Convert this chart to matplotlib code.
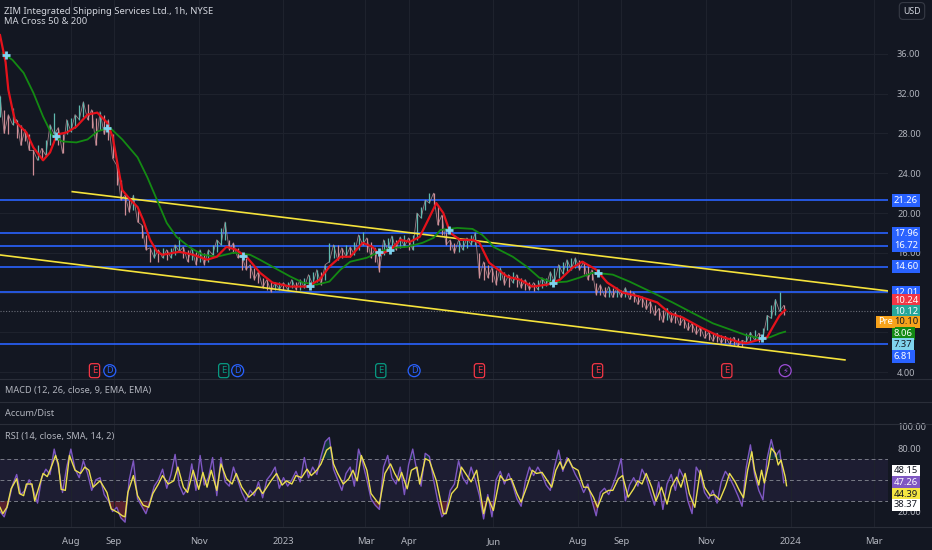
import numpy as np
import matplotlib
matplotlib.use('Agg')
import matplotlib.pyplot as plt
import matplotlib.dates as mdates

# ---- data ----
base = np.datetime64('2022-06-11')   # day 0 = left edge of the chart

# hourly candles summarised every 3 days: high / low of the visible band
candle_hi = [31.8, 30.4, 29.9, 30.6, 29.4, 28.9, 28.4, 27.9, 26.3, 26.8,
             26.5, 27.3, 28.9, 30.1, 28.6, 27.9, 29.4, 29.6, 29.9, 30.9,
             31.2, 31.0, 30.4, 29.6, 30.2, 29.9, 29.4, 27.9, 24.8, 23.3,
             21.8, 21.3, 21.8, 20.3, 18.8, 17.8, 16.5, 16.8, 16.3, 16.5,
             16.3, 16.5, 16.8, 17.6, 16.6, 16.3, 16.5, 16.1, 16.3, 16.0,
             16.3, 16.8, 17.3, 18.5, 19.1, 17.3, 17.0, 16.5, 15.8, 15.5,
             14.8, 14.5, 14.1, 13.5, 13.3, 13.1, 13.0, 13.1, 13.0, 13.1,
             13.3, 13.1, 13.3, 13.5, 13.8, 14.1, 14.3, 14.1, 14.8, 17.0,
             16.8, 16.8, 16.5, 16.8, 16.6, 17.1, 17.8, 18.1, 17.5, 17.1,
             16.5, 15.8, 17.3, 17.5, 17.7, 17.3, 17.6, 17.8, 17.5, 17.8,
             20.0, 20.6, 21.3, 22.0, 22.0, 20.8, 19.8, 18.1, 17.3, 17.0,
             17.3, 17.3, 17.5, 17.8, 18.0, 16.0, 15.1, 14.8, 14.5, 14.3,
             14.5, 14.1, 13.8, 14.1, 13.8, 13.5, 13.3, 13.1, 13.0, 13.3,
             13.5, 13.5, 14.1, 14.5, 14.8, 15.1, 15.3, 15.5, 15.5, 15.3,
             15.1, 14.7, 14.3, 13.0, 12.8, 12.6, 12.6, 12.5, 12.5, 12.3,
             12.5, 12.3, 12.0, 11.8, 11.6, 11.3, 11.1, 10.7, 10.4, 10.2,
             10.4, 10.0, 10.0, 9.7, 9.4, 9.0, 8.9, 8.7, 8.5, 8.2,
             8.0, 7.9, 7.9, 7.7, 7.6, 7.5, 7.5, 7.4, 7.2, 7.9,
             8.0, 8.2, 7.9, 8.4, 9.7, 10.7, 11.3, 12.1, 10.7]
candle_lo = [29.7, 28.0, 27.9, 28.9, 27.5, 26.8, 27.2, 26.3, 23.8, 25.3,
             25.3, 25.8, 26.8, 27.9, 26.8, 26.0, 27.9, 28.2, 28.6, 29.4,
             29.7, 29.4, 28.6, 26.8, 28.4, 27.9, 27.3, 25.5, 22.8, 21.3,
             19.8, 20.1, 20.3, 19.1, 17.5, 16.3, 15.1, 15.5, 15.1, 15.5,
             15.3, 15.5, 15.8, 16.1, 15.5, 15.1, 15.3, 14.8, 15.1, 14.8,
             15.1, 15.8, 16.1, 16.8, 17.3, 16.3, 16.0, 15.5, 14.3, 14.3,
             13.5, 13.3, 13.0, 12.5, 12.3, 12.1, 12.3, 12.3, 12.3, 12.3,
             12.5, 12.3, 12.3, 12.5, 12.6, 12.8, 13.1, 12.8, 13.3, 15.1,
             15.5, 15.3, 15.5, 15.6, 15.6, 15.8, 16.3, 16.8, 16.1, 15.5,
             15.1, 14.1, 15.8, 16.3, 16.5, 16.3, 16.5, 16.6, 16.3, 16.3,
             17.3, 19.5, 20.3, 21.0, 20.8, 18.8, 17.8, 16.8, 16.3, 16.0,
             16.1, 16.3, 16.5, 16.8, 16.8, 13.5, 13.3, 13.5, 13.1, 12.8,
             13.3, 12.8, 12.6, 13.0, 12.6, 12.5, 12.3, 12.3, 12.2, 12.3,
             12.5, 12.7, 12.8, 13.0, 13.5, 13.9, 14.1, 14.3, 14.5, 14.3,
             13.9, 13.3, 13.3, 11.8, 11.8, 11.6, 11.6, 11.5, 11.6, 11.5,
             11.6, 11.3, 11.0, 10.8, 10.5, 10.3, 9.9, 9.7, 9.2, 9.0,
             9.2, 9.0, 8.9, 8.7, 8.4, 8.2, 8.0, 7.8, 7.6, 7.4,
             7.2, 7.1, 7.0, 6.9, 6.9, 6.8, 6.7, 6.6, 6.5, 7.0,
             7.1, 7.2, 7.0, 7.4, 8.2, 9.4, 9.7, 10.1, 9.7]

ma50_day = [0, 4, 6, 9, 11, 19, 24, 31, 36, 41, 48, 55, 63, 70, 77, 81, 85, 88, 94, 99,
            103, 108, 113, 117, 129, 139, 149, 156, 163, 170, 178, 187, 196, 209, 221, 230,
            237, 245, 252, 261, 268, 273, 281, 288, 295, 302, 307, 314, 319, 324, 331, 340,
            345, 352, 365, 374, 383, 394, 403, 412, 419, 429, 437, 448, 460, 473, 482, 491,
            504, 516, 532, 537, 545, 552, 556, 561, 565]
ma50_val = [37.9, 35.2, 32.4, 30.4, 29.2, 28.1, 26.6, 25.3, 26.1, 27.9, 28.1, 28.7, 29.9,
            30.1, 29.1, 27.7, 24.6, 22.3, 21.3, 20.6, 19.3, 17.3, 16.1, 15.8, 16.1, 15.8,
            15.3, 15.6, 16.6, 16.3, 15.5, 14.0, 13.0, 12.6, 12.6, 13.3, 14.6, 15.6, 15.6,
            17.0, 16.6, 15.8, 16.3, 17.3, 17.1, 17.6, 19.0, 21.0, 20.0, 18.0, 17.3, 17.3,
            17.0, 15.0, 13.6, 13.3, 12.6, 12.8, 13.3, 14.5, 15.1, 14.3, 13.0, 12.0, 11.6,
            11.0, 9.9, 9.5, 8.5, 7.7, 7.0, 6.9, 7.2, 7.5, 8.5, 9.7, 10.24]

ma200_day = [2, 9, 17, 24, 31, 38, 45, 55, 63, 70, 79, 88, 99, 106, 113, 120, 127, 137,
             146, 156, 168, 180, 187, 196, 209, 218, 228, 237, 245, 252, 264, 273, 283, 293,
             304, 312, 317, 329, 340, 347, 352, 355, 369, 379, 388, 398, 408, 417, 427, 441,
             453, 468, 484, 499, 513, 527, 537, 547, 554, 561, 565]
ma200_val = [36.1, 35.4, 34.1, 32.1, 29.7, 27.7, 27.2, 27.1, 27.4, 28.2, 28.6, 27.4, 25.6,
             23.6, 21.3, 19.0, 17.6, 16.5, 15.8, 15.6, 16.0, 15.8, 15.3, 14.6, 13.6, 13.0,
             12.8, 13.1, 14.3, 15.1, 15.5, 16.1, 16.5, 16.6, 17.0, 17.5, 18.3, 18.5, 18.4,
             17.8, 17.1, 16.6, 15.6, 14.6, 13.5, 13.0, 13.1, 13.5, 14.0, 13.8, 13.1, 12.1,
             11.0, 9.9, 8.9, 8.2, 7.7, 7.4, 7.5, 7.9, 8.06]

cross_day = [4, 40, 77, 175, 223, 273, 281, 323, 398, 430, 548]
cross_val = [35.9, 27.7, 28.6, 15.7, 12.7, 16.1, 16.3, 18.3, 13.0, 14.0, 7.43]

levels = [21.26, 17.96, 16.72, 14.60, 12.01, 6.81]
last_price = 10.12
upper_trend = ([52, 639], [22.15, 12.16])
lower_trend = ([0, 608], [15.78, 5.22])

# right price scale labels
tag_vals = [21.26, 17.96, 16.72, 14.60, 12.01, 10.24, 10.12, 10.10, 8.06, 7.37, 6.81]
tag_face = ['#2962ff'] * 5 + ['#f23645', '#26a69a', '#f7a21b', '#138a13', '#7fd3ee', '#2962ff']
tag_text = ['white'] * 7 + ['#131722', 'white', '#131722', 'white']
tag_shift = [0, 0, 0, 0, 0, 10, 0, -10.5, -2, -5.5, -12]

event_day = [68, 79, 161, 171, 274, 298, 345, 430, 523, 565]
event_kind = ['E', 'D', 'E', 'D', 'E', 'D', 'E', 'E', 'E', '⚡']
event_color = ['#f23645', '#2962ff', '#089981', '#2962ff', '#089981', '#2962ff',
               '#f23645', '#f23645', '#f23645', '#9c4dd6']

# RSI (purple, every 3 days) and its SMA (yellow)
rsi_val = [20, 15, 28, 45, 55, 36, 40, 50, 40, 28, 52, 60, 55, 79, 62, 38, 62, 79, 60, 52,
           68, 56, 40, 50, 52, 36, 30, 20, 24, 14, 10, 50, 68, 32, 25, 18, 30, 44, 50, 60,
           42, 55, 74, 45, 36, 42, 65, 40, 73, 45, 52, 71, 35, 71, 48, 44, 62, 50, 38, 30,
           40, 35, 48, 33, 50, 55, 62, 42, 52, 44, 50, 58, 48, 71, 52, 62, 55, 72, 86, 90,
           60, 50, 40, 56, 62, 44, 79, 66, 50, 32, 26, 22, 62, 73, 52, 46, 62, 36, 64, 79,
           58, 44, 75, 72, 50, 30, 15, 20, 40, 46, 68, 52, 46, 62, 50, 35, 13, 36, 15, 50,
           58, 46, 56, 45, 32, 25, 48, 62, 54, 62, 55, 45, 40, 62, 78, 58, 71, 64, 55, 48,
           38, 46, 30, 16, 38, 42, 36, 45, 56, 70, 30, 45, 52, 44, 60, 52, 38, 26, 48, 22,
           46, 55, 40, 60, 52, 30, 18, 62, 55, 38, 32, 40, 28, 48, 58, 52, 44, 35, 25, 62,
           83, 55, 40, 31, 70, 88, 72, 78, 47.26]
rsi_ma_day = [0, 2, 5, 8, 12, 14, 17, 19, 23, 25, 28, 31, 34, 36, 40, 42, 44, 47, 50, 54,
              58, 61, 64, 67, 72, 77, 80, 85, 88, 90, 92, 96, 99, 103, 107, 110, 114, 117,
              121, 125, 128, 132, 135, 139, 143, 146, 149, 152, 156, 159, 163, 167, 170,
              174, 179, 182, 186, 189, 192, 195, 199, 203, 206, 210, 213, 217, 221, 224,
              228, 231, 235, 238, 240, 243, 247, 251, 254, 257, 260, 264, 267, 271, 273,
              277, 281, 284, 287, 289, 293, 296, 300, 302, 306, 309, 314, 319, 321, 325,
              329, 332, 336, 339, 343, 345, 348, 351, 355, 360, 363, 368, 372, 375, 379,
              383, 386, 390, 393, 397, 400, 403, 405, 409, 412, 416, 420, 423, 427, 430,
              434, 438, 441, 445, 448, 452, 456, 459, 462, 465, 469, 472, 476, 480, 483,
              487, 490, 493, 496, 500, 504, 507, 511, 514, 518, 522, 525, 529, 532, 535,
              538, 541, 543, 546, 548, 550, 553, 555, 558, 560, 562, 565, 566]
rsi_ma_val = [24, 18, 24, 41.5, 51, 37, 35, 46, 46, 30, 43, 56, 53, 59, 73, 65, 41, 40, 73,
              59, 56, 62, 59, 43, 49, 38, 22.5, 19, 16, 15, 38, 54, 35, 26, 24, 37, 46, 54,
              46, 49, 62, 43, 38, 59, 41, 57, 43, 59, 40, 65, 51, 46, 56, 43, 33.6, 37, 43,
              37, 43, 49, 56, 45, 49, 46, 54, 52, 60, 54, 59, 65, 78, 81, 65, 56, 46, 51,
              59, 49, 73, 59, 37, 30, 27, 56, 65, 56, 49, 57, 41.5, 59, 62, 46, 70, 68, 49,
              18, 18, 37, 43, 62, 54, 48, 59, 43, 18, 33.6, 21, 54, 49, 51, 37, 29, 43, 59,
              56, 57, 51, 43, 59, 67, 60, 70, 62, 59, 43, 43, 33.6, 24, 37, 40, 40, 51, 54,
              33.6, 41.5, 49, 46, 56, 43, 30, 43, 27, 43, 52.5, 43, 56, 37, 24, 59, 43, 35,
              36, 31, 43.5, 56, 48, 40, 33, 59, 76.5, 59, 45, 59, 47, 64, 80, 75, 64, 68.7,
              53, 44.39]
rsi_tag_vals = [48.15, 47.26, 44.39, 38.37]
rsi_tag_face = ['#ffffff', '#7e57c2', '#f5e642', '#ffffff']
rsi_tag_text = ['#131722', 'white', '#131722', '#131722']
rsi_tag_shift = [10.8, 0, -8.3, -12.9]

tick_dates = ['2022-08-01', '2022-09-01', '2022-11-01', '2023-01-01', '2023-03-01', '2023-04-01',
              '2023-06-01', '2023-08-01', '2023-09-01', '2023-11-01', '2024-01-01', '2024-03-01']
tick_labels = ['Aug', 'Sep', 'Nov', '2023', 'Mar', 'Apr', 'Jun', 'Aug', 'Sep', 'Nov', '2024', 'Mar']

# ---- style ----
BG = '#131722'
GRID = '#1e222d'
TXT = '#b2b5be'
plt.rcParams['font.family'] = ['Liberation Sans Narrow', 'Noto Sans', 'DejaVu Sans']


def to_num(days):
    return mdates.date2num(base + np.asarray(days, dtype=float).round().astype('timedelta64[D]'))


W, H = 932, 550


def rect(top, bottom, left=0, right=888):
    return [left / W, 1 - bottom / H, (right - left) / W, (bottom - top) / H]


fig = plt.figure(figsize=(W / 100, H / 100), dpi=100, facecolor=BG)
ax = fig.add_axes(rect(0, 379))
ax_macd = fig.add_axes(rect(379, 402), sharex=ax)
ax_ad = fig.add_axes(rect(402, 424), sharex=ax)
ax_rsi = fig.add_axes(rect(424, 527), sharex=ax)

xticks = mdates.date2num(np.array(tick_dates, dtype='datetime64[D]'))
for a in (ax, ax_macd, ax_ad, ax_rsi):
    a.set_facecolor(BG)
    for s in a.spines.values():
        s.set_visible(False)
    a.set_xticks(xticks)
    a.grid(True, axis='x', color=GRID, lw=0.8)
    a.tick_params(axis='x', length=0, labelbottom=False)
    a.yaxis.tick_right()
    a.tick_params(axis='y', length=0, colors=TXT, labelsize=6.6, pad=6.5)
ax.set_xlim(to_num(0), to_num(639))

# ---- price pane ----
ax.set_ylim(3.30, 41.43)
ax.set_yticks(np.arange(4, 37, 4))
# 8.00 and 12.00 sit under the value tags, as in the original
ax.set_yticklabels(['' if v in (8, 12) else '%.2f' % v for v in np.arange(4, 37, 4)])
ax.grid(True, axis='y', color=GRID, lw=0.8)

cd = to_num(np.arange(len(candle_hi)) * 3)
hi = np.array(candle_hi)
lo = np.array(candle_lo)
mid = (hi + lo) / 2
up = np.r_[True, mid[1:] >= mid[:-1]]
zig = np.where(np.arange(len(hi)) % 2 == 0, hi, lo)
ax.plot(cd, zig, color='#b88f96', lw=0.6, alpha=0.85, zorder=3)
ax.vlines(cd, lo, hi, colors=np.where(up, '#5fb8ae', '#d08e97'), lw=0.9, zorder=3)

for lv in levels:
    ax.axhline(lv, color='#2962ff', lw=1.2, zorder=2)
ax.axhline(last_price, color='#6a6d78', lw=0.8, ls=(0, (1, 1.5)), zorder=2)
ax.plot(to_num(upper_trend[0]), upper_trend[1], color='#f5e33b', lw=1.2, zorder=4)
ax.plot(to_num(lower_trend[0]), lower_trend[1], color='#f5e33b', lw=1.2, zorder=4)

ax.plot(to_num(ma200_day), ma200_val, color='#138a13', lw=1.3, zorder=5)
ax.plot(to_num(ma50_day), ma50_val, color='#e5121b', lw=1.6, zorder=6)
ax.plot(to_num(cross_day), cross_val, ls='none', marker='+', ms=6, mew=2,
        color='#7fd3ee', zorder=7)

ytr = ax.get_yaxis_transform()
for v, fc, tc, sh in zip(tag_vals, tag_face, tag_text, tag_shift):
    ax.annotate('%.2f' % v, xy=(1, v), xycoords=ytr, xytext=(6, sh),
                textcoords='offset pixels', ha='left', va='center', fontsize=6.8,
                color=tc, annotation_clip=False, zorder=10,
                bbox=dict(boxstyle='square,pad=0.2', fc=fc, ec='none'))
ax.annotate('Pre', xy=(1, 10.10), xycoords=ytr, xytext=(-10, -10.5),
            textcoords='offset pixels', ha='left', va='center', fontsize=6.8,
            color='white', annotation_clip=False, zorder=10,
            bbox=dict(boxstyle='square,pad=0.2', fc='#f7a21b', ec='none'))

btr = ax.get_xaxis_transform()
for d, k, c in zip(event_day, event_kind, event_color):
    style = 'circle,pad=0.18' if k != 'E' else 'round,pad=0.3'
    ax.text(to_num(d), 0.022, k, transform=btr, ha='center', va='center', fontsize=6,
            color=c, family=['DejaVu Sans'], zorder=8,
            bbox=dict(boxstyle=style, fc=BG, ec=c, lw=0.9))

fig.text(4 / W, 1 - 11 / H, 'ZIM Integrated Shipping Services Ltd., 1h, NYSE',
         color='#d1d4dc', fontsize=6.8, va='center')
fig.text(4 / W, 1 - 22 / H, 'MA Cross 50 & 200', color='#d1d4dc', fontsize=6.8, va='center')
fig.text(912 / W, 1 - 11 / H, 'USD', color='#d1d4dc', fontsize=6.3, ha='center', va='center',
         bbox=dict(boxstyle='round,pad=0.45', fc=BG, ec='#363a45', lw=0.8))

# ---- collapsed panes ----
for a in (ax_macd, ax_ad):
    a.set_yticks([])
fig.text(5 / W, 1 - 391 / H, 'MACD (12, 26, close, 9, EMA, EMA)', color=TXT, fontsize=6.6,
         va='center')
fig.text(5 / W, 1 - 413 / H, 'Accum/Dist', color=TXT, fontsize=6.6, va='center')
fig.text(5 / W, 1 - 437 / H, 'RSI (14, close, SMA, 14, 2)', color=TXT, fontsize=6.6,
         va='center')
for yy in (379, 402, 424, 527):
    fig.add_artist(plt.Line2D([0, 1], [1 - yy / H] * 2, color='#2a2e39', lw=0.8))

# ---- RSI pane ----
ax_rsi.set_ylim(5.4, 102.7)
ax_rsi.set_yticks([20, 80, 100])
ax_rsi.set_yticklabels(['20.00', '80.00', '100.00'])
ax_rsi.axhspan(30, 70, color='#7e57c2', alpha=0.1, lw=0)
for lv in (70, 50, 30):
    ax_rsi.axhline(lv, color='#787b86', lw=0.7, ls=(0, (4, 3)))
rd = to_num(np.arange(len(rsi_val)) * 3)
rv = np.array(rsi_val)
ax_rsi.fill_between(rd, 70, rv, where=rv > 70, interpolate=True, color='#089981', alpha=0.25, lw=0)
ax_rsi.fill_between(rd, 30, rv, where=rv < 30, interpolate=True, color='#f23645', alpha=0.3, lw=0)
ax_rsi.plot(rd, rv, color='#7e57c2', lw=1.0)
ax_rsi.plot(to_num(rsi_ma_day), rsi_ma_val, color='#ecdf4e', lw=1.0)
rtr = ax_rsi.get_yaxis_transform()
for v, fc, tc, sh in zip(rsi_tag_vals, rsi_tag_face, rsi_tag_text, rsi_tag_shift):
    ax_rsi.annotate('%.2f' % v, xy=(1, v), xycoords=rtr, xytext=(6, sh),
                    textcoords='offset pixels', ha='left', va='center', fontsize=6.8,
                    color=tc, annotation_clip=False, zorder=10,
                    bbox=dict(boxstyle='square,pad=0.2', fc=fc, ec='none'))

ax_rsi.tick_params(axis='x', labelbottom=True, colors=TXT, labelsize=6.8, pad=7)
ax_rsi.set_xticklabels(tick_labels)

fig.savefig('out.png', dpi=100, facecolor=BG)
